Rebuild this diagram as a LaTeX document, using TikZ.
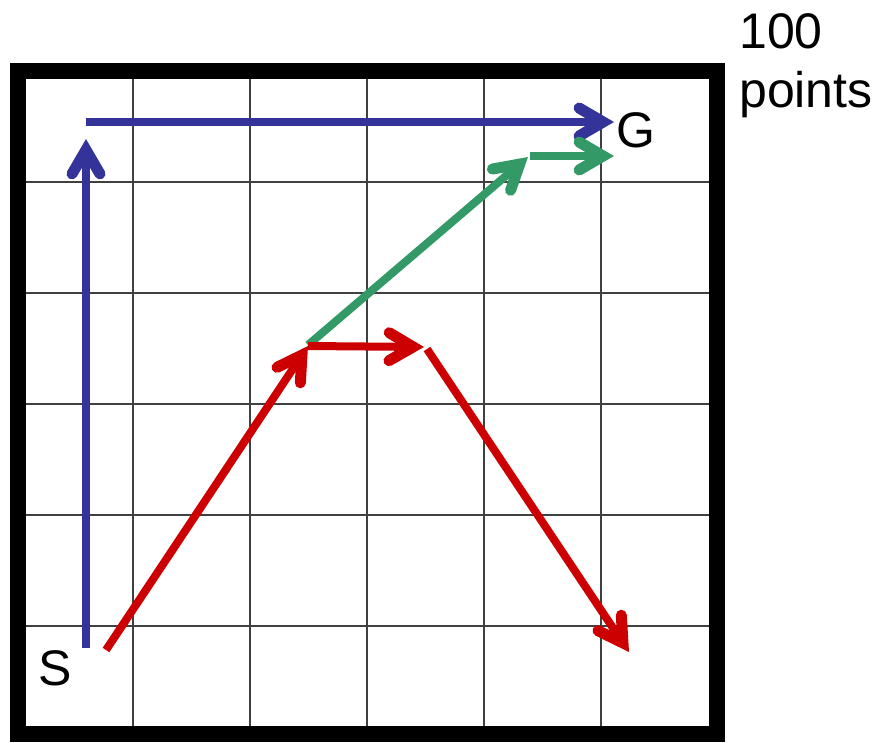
\documentclass[tikz,border=0pt]{standalone}
\usepackage{fontspec}
\setmainfont{Liberation Sans}
\usetikzlibrary{arrows.meta}
\definecolor{pblue}{HTML}{333399}
\definecolor{pred}{HTML}{CC0000}
\definecolor{pgreen}{HTML}{339966}
\begin{document}
\begin{tikzpicture}[x=1pt,y=-1pt,
  gridline/.style={draw=black!75,line width=1.3pt},
  frame/.style={draw=black,line width=16pt},
  move/.style={line width=8pt,line cap=butt,
    -{Straight Barb[length=24pt,width=28pt,line width=11pt,line cap=round,line join=miter]}},
  lbl/.style={inner sep=0pt,font=\fontsize{50}{58}\selectfont}]
\useasboundingbox (0,0) rectangle (877,742);
% grid
\foreach \x in {133,250,367,484,601}
  \draw[gridline] (\x,79) -- (\x,726);
\foreach \y in {182,293,404,515,626}
  \draw[gridline] (26,\y) -- (709,\y);
% frame
\draw[frame] (17.5,71) rectangle (717,734);
% labels
\node[lbl] (S) at (55,668) {S};
\node[lbl] (G) at (636,130) {G};
\node[lbl,anchor=base west] (hundred) at (739,48) {100};
\node[lbl,anchor=base west] (points) at (739,107) {points};
% coordinates
\coordinate (b0) at (86,648);
\coordinate (b1) at (86,139);
\coordinate (b2) at (86,122);
\coordinate (b3) at (614,122);
\coordinate (r0) at (106,650);
\coordinate (r1) at (308,346);
\coordinate (r2) at (424,347);
\coordinate (r3) at (427,349);
\coordinate (r4) at (629,652);
\coordinate (g0) at (308,345);
\coordinate (g1) at (528,157);
\coordinate (g2) at (530,156);
\coordinate (g3) at (614,156);
% blue path
\draw[move,pblue] (b0) -- (b1);
\draw[move,pblue] (b2) -- (b3);
% green path
\draw[move,pgreen] (g0) -- (g1);
\draw[move,pgreen] (g2) -- (g3);
% red path
\draw[move,pred] (r0) -- (r1);
\draw[move,pred] (r1) -- (r2);
\draw[move,pred] (r3) -- (r4);
\end{tikzpicture}
\end{document}
